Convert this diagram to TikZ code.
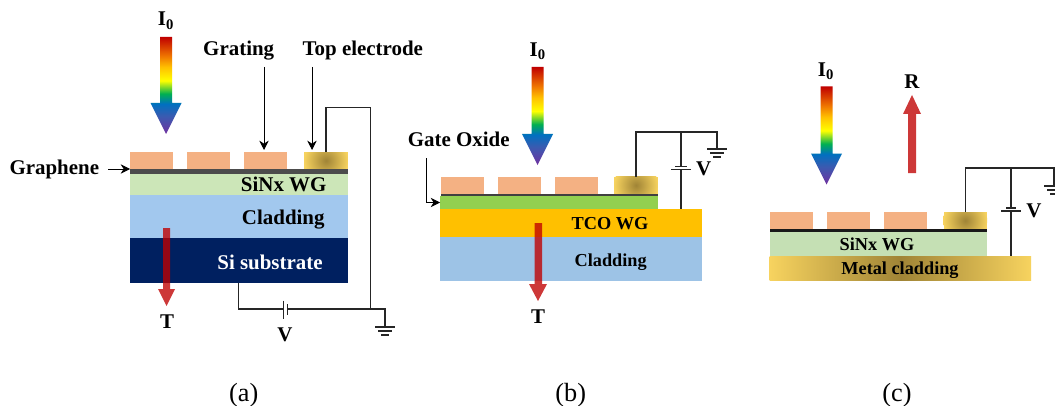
\documentclass[tikz,border=0pt]{standalone}
\usepackage{fontspec}
\setmainfont{Liberation Serif}
\usetikzlibrary{arrows.meta,calc}
\definecolor{rbpurple}{HTML}{7030A0}
\definecolor{rbindigo}{HTML}{3C5AB0}
\definecolor{rbblue}{HTML}{0070C0}
\definecolor{rbgreen}{HTML}{00B050}
\definecolor{rbyellow}{HTML}{FFFF00}
\definecolor{rbamber}{HTML}{FFC000}
\definecolor{rborange}{HTML}{F07800}
\definecolor{rbred}{HTML}{C00000}
\pgfdeclareverticalshading{rainbowdrop}{100bp}{
 color(0bp)=(rbpurple);
 color(25bp)=(rbpurple);
 color(34bp)=(rbindigo);
 color(40.5bp)=(rbblue);
 color(45.75bp)=(rbgreen);
 color(52.5bp)=(rbyellow);
 color(59.5bp)=(rbamber);
 color(65bp)=(rborange);
 color(75bp)=(rbred);
 color(100bp)=(rbred)}
\definecolor{gratc}{HTML}{F4B183}
\definecolor{goldc}{HTML}{F7D35F}
\definecolor{darkgold}{HTML}{A08436}
\definecolor{sinxa}{HTML}{CCE6B8}
\definecolor{sinxc}{HTML}{C5E0B4}
\definecolor{cladc}{HTML}{A2C8EE}
\definecolor{cladb}{HTML}{9DC3E6}
\definecolor{subc}{HTML}{002060}
\definecolor{tcoc}{HTML}{FFC000}
\definecolor{gatec}{HTML}{92D050}
\definecolor{redc}{HTML}{C00000}
\definecolor{inkc}{HTML}{262626}
\tikzset{
 x=0.75pt,y=-0.75pt,
 layer/.style={inner sep=0pt,outer sep=0pt,anchor=north west,draw=none},
 grat/.style={layer,fill=gratc},
 elec/.style={layer,fill=goldc,path picture={\shade[inner color=darkgold,outer color=goldc] (path picture bounding box.center) circle (16.5pt);}},
 lab/.style={font=\fontsize{15.7pt}{18pt}\selectfont\bfseries,inner sep=0pt,anchor=base,text=black},
 labs/.style={font=\fontsize{13.7pt}{16pt}\selectfont\bfseries,inner sep=0pt,anchor=base,text=black},
 capt/.style={font=\fontsize{19.7pt}{22pt}\selectfont,inner sep=0pt,anchor=base,text=black},
 wire/.style={draw=inkc,line width=1.1pt},
 thinarrow/.style={draw=black,line width=0.6pt,-{Stealth[length=7pt,width=7pt]}},
 rainbow/.style={shading=rainbowdrop,draw=none},
 redarrow/.style={fill=redc,fill opacity=0.78,draw=none},
}
\newcommand{\layerbox}[6]{\node[#6,minimum width={(#4-#2)*0.75pt},minimum height={(#5-#3)*0.75pt}] (#1) at (#2,#3) {};}
\newcommand{\groundsym}[3]{% name x y
 \coordinate (#1) at (#2,#3);
 \draw[wire] ($(#1)+(-10,0)$) -- ($(#1)+(10,0)$);
 \draw[wire] ($(#1)+(-7,4)$) -- ($(#1)+(7,4)$);
 \draw[wire] ($(#1)+(-4,8)$) -- ($(#1)+(4,8)$);}
\newcommand{\rainbowarrow}[3]{% cx top headtop
 \shade[rainbow] (#1-6,#2) -- (#1+6,#2) -- (#1+6,#3) -- (#1+15.5,#3) -- (#1,#3+31) -- (#1-15.5,#3) -- (#1-6,#3) -- cycle;}
\begin{document}
\begin{tikzpicture}
\useasboundingbox[fill=white] (0,0) rectangle (1055,406);
% ---------- panel a
\layerbox{ag1}{130}{152}{173}{169}{grat}
\layerbox{ag2}{187}{152}{230}{169}{grat}
\layerbox{ag3}{244}{152}{287}{169}{grat}
\layerbox{ae}{304}{152}{348}{169}{elec}
\layerbox{asinx}{130}{173}{348}{195}{layer,fill=sinxa}
\layerbox{aclad}{130}{195}{348}{238}{layer,fill=cladc}
\layerbox{asi}{130}{238}{348}{282.5}{layer,fill=subc}
\layerbox{agr}{130}{169}{348}{173.5}{layer,fill=black!70}
\node[lab] at (283.7,191.7) {SiNx WG};
\node[lab] at (283.3,224) {Cladding};
\node[lab,text=white] at (270,269) {Si substrate};
\node[lab] (aglab) at (54.3,175) {Graphene};
\node[lab] (gratlab) at (238.7,56) {Grating};
\node[lab] (toplab) at (362.8,56) {Top electrode};
\node[lab] at (166,26) {I\textsubscript{0}};
\node[lab] at (167,328) {T};
\node[lab] at (285,341.7) {V};
\rainbowarrow{166}{37}{103}
\fill[redarrow] (163,228) -- (170,228) -- (170,289) -- (175,289) -- (166.5,306) -- (158,289) -- (163,289) -- cycle;
\coordinate (aga) at (108,169);
\draw[thinarrow] (aga) -- (agr.north west);
\coordinate (g1) at (264,67);
\coordinate (g2) at (264,150);
\draw[thinarrow] (g1) -- (g2);
\coordinate (t1) at (312,67);
\coordinate (t2) at (312,150);
\draw[thinarrow] (t1) -- (t2);
\groundsym{agnd}{385}{327}
\coordinate (aj) at (370.5,309);
\coordinate (awt) at (326,107.5);
\coordinate (asb) at (238.5,282.5);
\draw[wire] (ae.north) -- (ae.north |- awt) -| (aj);
\coordinate (ab1) at (283.5,309);
\coordinate (ab2) at (287.5,309);
\draw[wire] (asb) |- (ab1);
\draw[wire] (ab2) -- (aj) -| (agnd);
\draw[wire] (283.5,300.5) -- (283.5,318.5);
\draw[wire] (287.5,304) -- (287.5,315);
% ---------- panel b
\layerbox{bg1}{440.7}{176.5}{484}{194}{grat}
\layerbox{bg2}{498}{176.5}{541}{194}{grat}
\layerbox{bg3}{555}{176.5}{598}{194}{grat}
\layerbox{be}{614}{176.5}{658}{194}{elec}
\layerbox{bgate}{440}{196}{658}{209}{layer,fill=gatec}
\layerbox{btco}{440}{209}{702}{237}{layer,fill=tcoc}
\layerbox{bclad}{440}{237}{702}{281}{layer,fill=cladb}
\layerbox{bgr}{440.7}{194}{658}{196}{layer,fill=black!75}
\node[labs] at (610,229) {TCO WG};
\node[labs] at (610.7,266) {Cladding};
\node[lab] (gatelab) at (458.7,146.7) {Gate Oxide};
\node[lab] at (537.7,56.7) {I\textsubscript{0}};
\node[lab] at (538,323) {T};
\node[lab] at (703.7,175.7) {V};
\rainbowarrow{537.5}{67}{134}
\fill[redarrow] (534.5,223) -- (542,223) -- (542,284) -- (547,284) -- (538,301) -- (529,284) -- (534.5,284) -- cycle;
\coordinate (bo) at (426.5,158);
\draw[thinarrow] (bo) |- (bgate.west);
\groundsym{bgnd}{717}{149}
\coordinate (bwt) at (636,132);
\coordinate (bj) at (681,132);
\coordinate (bb1) at (681,166.7);
\coordinate (bb2) at (681,169);
\draw[wire] (be.north) -- (be.north |- bwt) -- (bj) -| (bgnd);
\draw[wire] (bj) -- (bb1);
\draw[wire] (bb2) -- (bb2 |- btco.north);
\draw[wire] (675,166.7) -- (687,166.7);
\draw[wire] (671,169.5) -- (691,169.5);
% ---------- panel c
\layerbox{cg1}{769.5}{212}{813}{229}{grat}
\layerbox{cg2}{826.5}{212}{870}{229}{grat}
\layerbox{cg3}{883.5}{212}{927}{229}{grat}
\layerbox{ce}{943.5}{212}{987}{229}{elec}
\layerbox{csinx}{769.5}{231.5}{987}{256}{layer,fill=sinxc}
\layerbox{cmetal}{769.5}{256}{1031}{280}{layer,left color=goldc,right color=goldc,middle color=darkgold}
\layerbox{cgr}{769.5}{229}{987}{231.5}{layer,fill=black!90}
\node[labs] at (877,250) {SiNx WG};
\node[labs] at (900,274) {Metal cladding};
\node[lab] at (826,76.7) {I\textsubscript{0}};
\node[lab] at (912,89) {R};
\node[lab] at (1034,217) {V};
\rainbowarrow{826.5}{86.5}{153.5}
\fill[redarrow] (908,173) -- (916,173) -- (916,114) -- (921,114) -- (912,95) -- (903,114) -- (908,114) -- cycle;
\groundsym{cgnd}{1054}{186}
\coordinate (cwt) at (965,168);
\coordinate (cj) at (1011,168);
\coordinate (cb1) at (1011,208);
\coordinate (cb2) at (1011,211);
\draw[wire] (ce.north) -- (ce.north |- cwt) -- (cj) -| (cgnd);
\draw[wire] (cj) -- (cb1);
\draw[wire] (cb2) -- (cb2 |- cmetal.north);
\draw[wire] (1006,208) -- (1016,208);
\draw[wire] (1001,211) -- (1021,211);
% ---------- captions
\node[capt] at (243.7,401) {(a)};
\node[capt] at (570.7,401) {(b)};
\node[capt] at (897,401) {(c)};
\end{tikzpicture}
\end{document}
